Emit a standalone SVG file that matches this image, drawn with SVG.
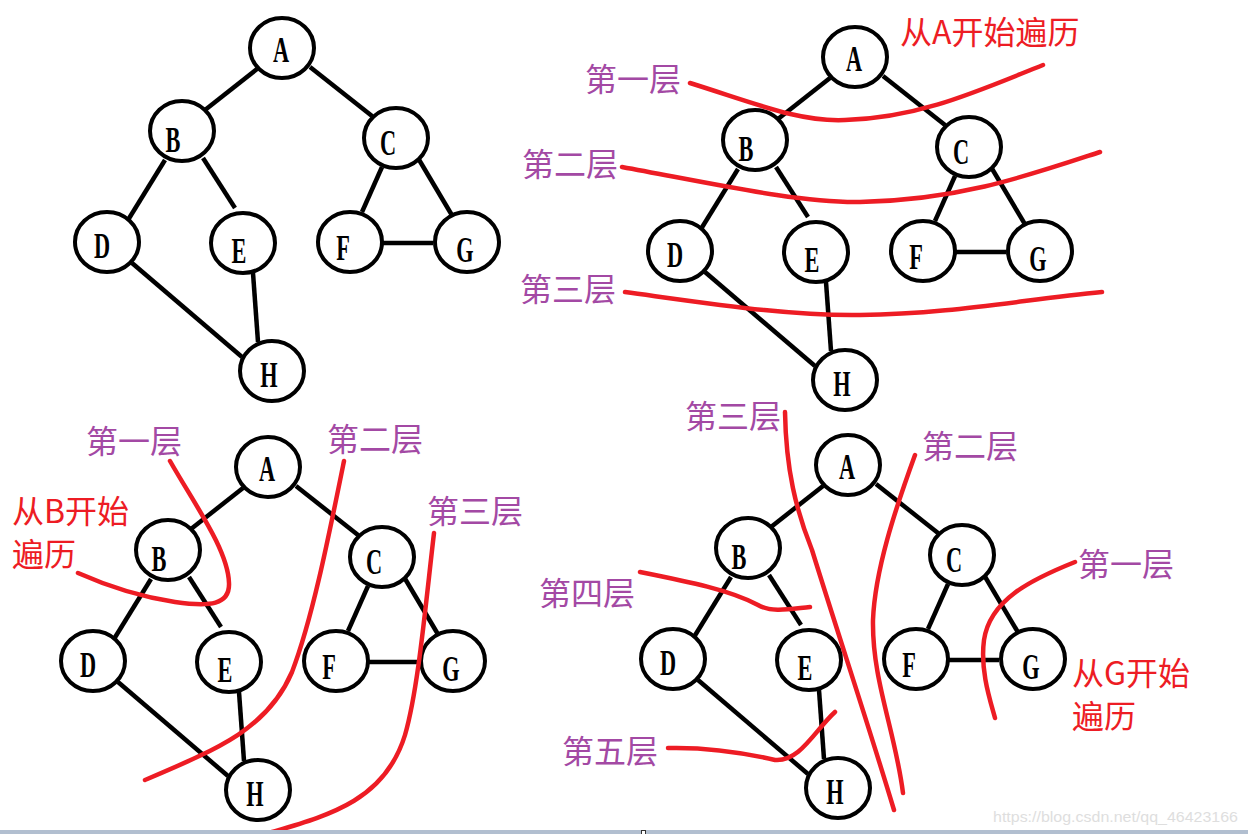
<svg xmlns="http://www.w3.org/2000/svg" width="1248" height="834" viewBox="0 0 1248 834">
<style>
.n ellipse{fill:#fff;stroke:#000;stroke-width:4}
.n text{font-family:"Liberation Serif",serif;font-size:36px;font-weight:bold;fill:#000;text-anchor:middle}
.r{fill:none;stroke:#ED1C24;stroke-width:4.5;stroke-linecap:round;stroke-linejoin:round}
.p{font-family:"Noto Sans CJK SC",sans-serif;font-size:32px;fill:#A349A4}
.t{font-family:"Noto Sans CJK SC",sans-serif;font-size:32px;fill:#ED1C24}
</style>
<defs>
<g id="edges" stroke="#000" stroke-width="4.5" fill="none">
<line x1="257" y1="69" x2="205" y2="110"/>
<line x1="310" y1="67" x2="372" y2="116"/>
<line x1="165" y1="160" x2="128" y2="220"/>
<line x1="203" y1="158" x2="235" y2="208"/>
<line x1="382" y1="167" x2="362" y2="212"/>
<line x1="418" y1="158" x2="453" y2="217"/>
<line x1="382" y1="243" x2="433" y2="243"/>
<line x1="132" y1="263" x2="242" y2="357"/>
<line x1="253" y1="273" x2="258" y2="342"/>
</g>
</defs>
<rect width="1248" height="834" fill="#fff"/>

<!-- Graph 1 -->
<g id="graph1">
<g id="g1-connectors"><use href="#edges"/></g>
<g class="n" id="g1-A"><ellipse cx="282" cy="48" rx="32" ry="30"/><text transform="translate(281,62) scale(0.62,1)">A</text></g>
<g class="n" id="g1-B"><ellipse cx="182" cy="131" rx="32" ry="30"/><text transform="translate(173,152) scale(0.62,1)">B</text></g>
<g class="n" id="g1-C"><ellipse cx="396" cy="138" rx="32" ry="30"/><text transform="translate(388,155) scale(0.62,1)">C</text></g>
<g class="n" id="g1-D"><ellipse cx="107" cy="242" rx="32" ry="30"/><text transform="translate(102,258) scale(0.62,1)">D</text></g>
<g class="n" id="g1-E"><ellipse cx="243" cy="243" rx="32" ry="30"/><text transform="translate(239,263) scale(0.62,1)">E</text></g>
<g class="n" id="g1-F"><ellipse cx="350" cy="242" rx="32" ry="30"/><text transform="translate(343,260) scale(0.62,1)">F</text></g>
<g class="n" id="g1-G"><ellipse cx="467" cy="242" rx="32" ry="30"/><text transform="translate(465,262) scale(0.62,1)">G</text></g>
<g class="n" id="g1-H"><ellipse cx="272" cy="371" rx="32" ry="30"/><text transform="translate(269,387) scale(0.62,1)">H</text></g>
</g>

<!-- Graph 2 -->
<g id="graph2" transform="translate(573,9)">
<g id="g2-connectors"><use href="#edges"/></g>
<g class="n" id="g2-A"><ellipse cx="282" cy="48" rx="32" ry="30"/><text transform="translate(281,62) scale(0.62,1)">A</text></g>
<g class="n" id="g2-B"><ellipse cx="182" cy="131" rx="32" ry="30"/><text transform="translate(173,152) scale(0.62,1)">B</text></g>
<g class="n" id="g2-C"><ellipse cx="396" cy="138" rx="32" ry="30"/><text transform="translate(388,155) scale(0.62,1)">C</text></g>
<g class="n" id="g2-D"><ellipse cx="107" cy="242" rx="32" ry="30"/><text transform="translate(102,258) scale(0.62,1)">D</text></g>
<g class="n" id="g2-E"><ellipse cx="243" cy="243" rx="32" ry="30"/><text transform="translate(239,263) scale(0.62,1)">E</text></g>
<g class="n" id="g2-F"><ellipse cx="350" cy="242" rx="32" ry="30"/><text transform="translate(343,260) scale(0.62,1)">F</text></g>
<g class="n" id="g2-G"><ellipse cx="467" cy="242" rx="32" ry="30"/><text transform="translate(465,262) scale(0.62,1)">G</text></g>
<g class="n" id="g2-H"><ellipse cx="272" cy="371" rx="32" ry="30"/><text transform="translate(269,387) scale(0.62,1)">H</text></g>
</g>

<!-- Graph 3 -->
<g id="graph3" transform="translate(-14,419)">
<g id="g3-connectors"><use href="#edges"/></g>
<g class="n" id="g3-A"><ellipse cx="282" cy="48" rx="32" ry="30"/><text transform="translate(281,62) scale(0.62,1)">A</text></g>
<g class="n" id="g3-B"><ellipse cx="182" cy="131" rx="32" ry="30"/><text transform="translate(173,152) scale(0.62,1)">B</text></g>
<g class="n" id="g3-C"><ellipse cx="396" cy="138" rx="32" ry="30"/><text transform="translate(388,155) scale(0.62,1)">C</text></g>
<g class="n" id="g3-D"><ellipse cx="107" cy="242" rx="32" ry="30"/><text transform="translate(102,258) scale(0.62,1)">D</text></g>
<g class="n" id="g3-E"><ellipse cx="243" cy="243" rx="32" ry="30"/><text transform="translate(239,263) scale(0.62,1)">E</text></g>
<g class="n" id="g3-F"><ellipse cx="350" cy="242" rx="32" ry="30"/><text transform="translate(343,260) scale(0.62,1)">F</text></g>
<g class="n" id="g3-G"><ellipse cx="467" cy="242" rx="32" ry="30"/><text transform="translate(465,262) scale(0.62,1)">G</text></g>
<g class="n" id="g3-H"><ellipse cx="272" cy="371" rx="32" ry="30"/><text transform="translate(269,387) scale(0.62,1)">H</text></g>
</g>

<!-- Graph 4 -->
<g id="graph4" transform="translate(566,417)">
<g id="g4-connectors"><use href="#edges"/></g>
<g class="n" id="g4-A"><ellipse cx="282" cy="48" rx="32" ry="30"/><text transform="translate(281,62) scale(0.62,1)">A</text></g>
<g class="n" id="g4-B"><ellipse cx="182" cy="131" rx="32" ry="30"/><text transform="translate(173,152) scale(0.62,1)">B</text></g>
<g class="n" id="g4-C"><ellipse cx="396" cy="138" rx="32" ry="30"/><text transform="translate(388,155) scale(0.62,1)">C</text></g>
<g class="n" id="g4-D"><ellipse cx="107" cy="242" rx="32" ry="30"/><text transform="translate(102,258) scale(0.62,1)">D</text></g>
<g class="n" id="g4-E"><ellipse cx="243" cy="243" rx="32" ry="30"/><text transform="translate(239,263) scale(0.62,1)">E</text></g>
<g class="n" id="g4-F"><ellipse cx="350" cy="242" rx="32" ry="30"/><text transform="translate(343,260) scale(0.62,1)">F</text></g>
<g class="n" id="g4-G"><ellipse cx="467" cy="242" rx="32" ry="30"/><text transform="translate(465,262) scale(0.62,1)">G</text></g>
<g class="n" id="g4-H"><ellipse cx="272" cy="371" rx="32" ry="30"/><text transform="translate(269,387) scale(0.62,1)">H</text></g>
</g>

<!-- Red layer curves -->
<g id="layer-curves">
<path class="r" d="M690,83 C760,105 800,122 845,120 C920,118 980,90 1043,65"/>
<path class="r" d="M622,167 C720,185 800,203 860,202 C960,200 1030,175 1100,152"/>
<path class="r" d="M625,292 C720,305 790,316 860,315 C950,314 1020,300 1102,292"/>
<path class="r" d="M170,461 C195,505 228,550 229,583 C230,605 210,607 175,602 C135,596 105,585 78,573"/>
<path class="r" d="M344,461 C328,540 312,620 292,672 C268,728 220,748 145,780"/>
<path class="r" d="M434,533 C425,610 418,690 405,735 C385,800 330,815 272,832"/>
<path class="r" d="M785,412 C786,470 796,510 812,550 C840,640 870,730 894,810"/>
<path class="r" d="M915,455 C895,510 875,570 873,620 C872,680 895,730 903,793"/>
<path class="r" d="M1075,562 C1030,580 990,600 984,640 C980,670 990,700 995,718"/>
<path class="r" d="M640,572 C690,582 730,590 758,605 C772,613 790,609 810,607"/>
<path class="r" d="M668,748 C710,747 745,753 775,760 C800,762 815,730 835,712"/>
</g>

<!-- Labels -->
<g id="labels">
<text class="t" x="900" y="44">从A开始遍历</text>
<text class="p" x="585" y="91">第一层</text>
<text class="p" x="522" y="176">第二层</text>
<text class="p" x="520" y="301">第三层</text>
<text class="p" x="86" y="453">第一层</text>
<text class="p" x="327" y="451">第二层</text>
<text class="p" x="427" y="523">第三层</text>
<text class="t" x="12" y="523">从B开始</text>
<text class="t" x="12" y="566">遍历</text>
<text class="p" x="685" y="428">第三层</text>
<text class="p" x="922" y="458">第二层</text>
<text class="p" x="1078" y="576">第一层</text>
<text class="p" x="539" y="605">第四层</text>
<text class="p" x="562" y="763">第五层</text>
<text class="t" x="1072" y="685">从G开始</text>
<text class="t" x="1072" y="728">遍历</text>
</g>

<text x="993" y="822" font-family="Liberation Sans, sans-serif" font-size="15" fill="#dedede" textLength="245" lengthAdjust="spacingAndGlyphs">https://blog.csdn.net/qq_46423166</text>
<rect x="0" y="830" width="1248" height="4" fill="#b2bfd0"/>
<rect x="641.5" y="830.5" width="4" height="4" fill="#fff" stroke="#333" stroke-width="1"/>
</svg>
